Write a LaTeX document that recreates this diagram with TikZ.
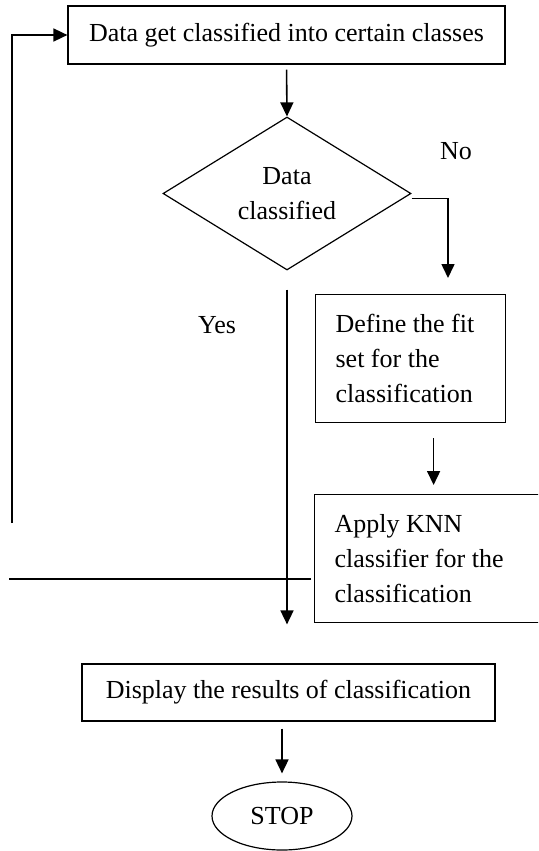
\documentclass[tikz,border=0pt]{standalone}
\usepackage{fontspec}
\setmainfont{Liberation Serif}
\usetikzlibrary{shapes.geometric,arrows.meta}

\begin{document}
\begin{tikzpicture}[x=0.5pt, y=-0.5pt, every node/.style={font=\fontsize{13}{17.5}\selectfont},
		box/.style={draw, line width=0.6pt, rectangle, inner sep=0pt},
		arr/.style={line width=0.8pt, -{Triangle[length=7pt,width=6.5pt]}}]
		\clip (0,0) rectangle (538,851);
		
		\node[box, minimum width=218.5pt, minimum height=29pt] (classify) at (286.5,35) {Data get classified into certain classes};
		\node[draw, line width=0.6pt, diamond, aspect=1.62, inner sep=0pt, minimum width=124pt, minimum height=76.5pt, align=center] (decision) at (287,193.5) {Data\\classified};
		\node[box, anchor=north west, minimum width=95pt, minimum height=64pt, text width=75pt, inner xsep=10pt, align=flush left] (define) at (315,294) {Define the fit\\set for the\\classification};
		\node[box, anchor=north west, minimum width=125pt, minimum height=64pt, text width=105pt, inner xsep=10pt, align=flush left] (apply) at (314,494) {Apply KNN\\classifier for the\\classification};
		\node[box, minimum width=206.5pt, minimum height=28.5pt] (display) at (288.5,692.5) {Display the results of classification};
		\node[draw, line width=0.6pt, ellipse, minimum width=70pt, minimum height=34pt, inner sep=0pt] (stop) at (282,816) {STOP};
		
		\node (no) at (456,151) {No};
		\node (yes) at (217,325) {Yes};
		
		% connectors
		\draw[arr, shorten <=2.5pt] (classify.south) -- (decision.north);
		\coordinate (noend) at (448,278);
		\draw[arr] ([yshift=-2.5pt]decision.east) -| (noend);
		\draw[arr, shorten <=9.5pt, shorten >=19.5pt] (decision.south) -- (decision.south |- display.north);
		\draw[arr, shorten <=7.5pt, shorten >=4.5pt] ([xshift=11.5pt]define.south) -- ([xshift=11.5pt]define.south |- apply.north);
		\draw[arr, shorten <=3.5pt, shorten >=4pt] (display.south -| stop.north) -- (stop.north);
		
		% loop back
		\coordinate (backend) at (9,579);
		\coordinate (backstart) at (12,523);
		\draw[line width=0.8pt, shorten <=1.5pt] (apply.west |- backend) -- (backend);
		\draw[arr] (backstart) |- (classify.west);
		
	\end{tikzpicture}
\end{document}
